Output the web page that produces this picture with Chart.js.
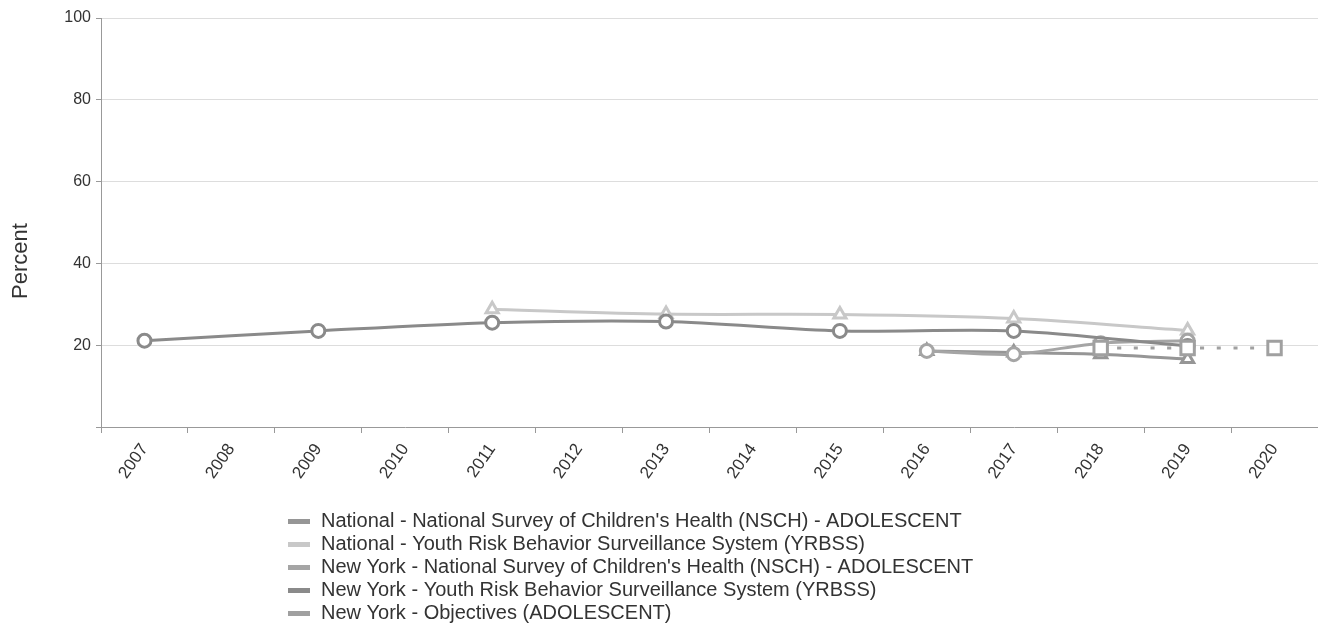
<!DOCTYPE html>
<html>
<head>
<meta charset="utf-8">
<script src="https://cdn.jsdelivr.net/npm/chart.js@4.4.0/dist/chart.umd.min.js"></script>
<style>
  body { margin: 0; background: #fff; }
  #wrap { width: 1318px; height: 637px; position: relative; }
</style>
</head>
<body>
<div id="wrap"><canvas id="chart"></canvas></div>
<script>
const years = ['2007', '2008', '2009', '2010', '2011', '2012', '2013', '2014', '2015', '2016', '2017', '2018', '2019', '2020'];

const nationalNsch = [null, null, null, null, null, null, null, null, null, 18.6, 18.2, 17.8, 16.6, null];
const nationalYrbss = [null, null, null, null, 28.8, null, 27.6, null, 27.5, null, 26.5, null, 23.6, null];
const nyNsch = [null, null, null, null, null, null, null, null, null, 18.6, 17.8, 20.5, 21.1, null];
const nyYrbss = [21.1, null, 23.5, null, 25.5, null, 25.8, null, 23.5, null, 23.5, null, 19.8, null];
const nyObjectives = [null, null, null, null, null, null, null, null, null, null, null, 19.3, 19.3, 19.3];

const yTicks = [0, 20, 40, 60, 80, 100];

Chart.defaults.font.family = '"Liberation Sans", Arial, sans-serif';
Chart.defaults.color = '#333333';

function series(label, data, color, style, radius, order, dash) {
    return {
        label: label,
        data: data,
        borderColor: color,
        backgroundColor: color,
        borderWidth: 3,
        borderDash: dash || [],
        pointStyle: style,
        pointRadius: radius,
        pointBorderWidth: 3,
        pointBorderColor: color,
        pointBackgroundColor: '#ffffff',
        tension: 0.3,
        spanGaps: true,
        order: order,
    };
}

// legend stacked one per row + the y title, placed like the original
const stackedLegend = {
    id: 'stackedLegend',
    afterDraw(chart) {
        const ctx = chart.ctx;
        ctx.save();
        ctx.font = '20px "Liberation Sans", Arial, sans-serif';
        ctx.textBaseline = 'middle';
        chart.data.datasets.forEach((ds, i) => {
            const y = 521 + i * 23;
            ctx.fillStyle = ds.borderColor;
            ctx.fillRect(288, y - 2, 22, 5);
            ctx.fillStyle = '#333333';
            ctx.fillText(ds.label, 321, y);
        });
        ctx.translate(21, 261);
        ctx.rotate(-Math.PI / 2);
        ctx.textAlign = 'center';
        ctx.font = '22px "Liberation Sans", Arial, sans-serif';
        ctx.fillText('Percent', 0, 0);
        ctx.restore();
    }
};

new Chart(document.getElementById('chart'), {
    type: 'line',
    data: {
        labels: years,
        datasets: [
            series('National - National Survey of Children\'s Health (NSCH) - ADOLESCENT', nationalNsch, '#969696', 'triangle', 7, 4),
            series('National - Youth Risk Behavior Surveillance System (YRBSS)', nationalYrbss, '#c8c8c8', 'triangle', 7, 3),
            series('New York - National Survey of Children\'s Health (NSCH) - ADOLESCENT', nyNsch, '#a5a5a5', 'circle', 6.5, 2),
            series('New York - Youth Risk Behavior Surveillance System (YRBSS)', nyYrbss, '#8a8a8a', 'circle', 6.5, 1),
            series('New York - Objectives (ADOLESCENT)', nyObjectives, '#a0a0a0', 'rect', 9.5, 0, [4, 12.6]),
        ],
    },
    options: {
        responsive: true,
        maintainAspectRatio: false,
        animation: false,
        events: [],
        layout: { autoPadding: false, padding: { top: 18, right: 0, bottom: 130, left: 0 } },
        plugins: {
            legend: { display: false },
            tooltip: { enabled: false },
        },
        scales: {
            x: {
                offset: true,
                grid: { offset: true, drawOnChartArea: false, tickLength: 6, tickColor: '#999999' },
                border: { color: '#999999' },
                ticks: { autoSkip: false, minRotation: 55, maxRotation: 55, font: { size: 17 }, padding: 7 },
                afterFit: (scale) => {
                    scale.height = 80;
                    scale.paddingLeft = 0;
                    scale.paddingRight = 0;
                },
            },
            y: {
                min: 0,
                max: 100,
                afterBuildTicks: (scale) => { scale.ticks = yTicks.map(v => ({ value: v })); },
                grid: {
                    color: (c) => c.tick && c.tick.value === 0 ? 'rgba(0,0,0,0)' : '#dddddd',
                    tickColor: '#999999',
                    tickLength: 5,
                },
                border: { color: '#999999' },
                ticks: {
                    font: { size: 16 },
                    padding: 5,
                    callback: (v) => v === 0 ? '' : v,
                },
                afterFit: (scale) => { scale.width = 101; },
            },
        },
    },
    plugins: [stackedLegend],
});
</script>
</body>
</html>
